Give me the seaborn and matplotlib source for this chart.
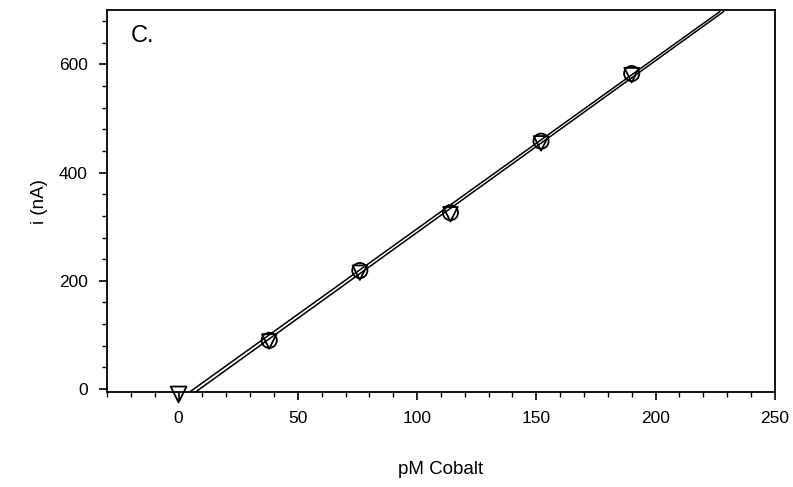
import numpy as np
import pandas as pd
import matplotlib
matplotlib.use('Agg')
import matplotlib.pyplot as plt
from matplotlib.ticker import MultipleLocator
import seaborn as sns

# concentrations (pM Cobalt) and currents (nA)
conc = [38, 76, 114, 152, 190]
current_circle = [90, 219, 326, 458, 583]
current_tri = [88, 215, 323, 454, 580]
blank_x = [0]
blank_y = [-10]

# fitted lines, end points where they leave the plot
fit_a_x = [4.6, 227.0]
fit_a_y = [-5.5, 697.6]
fit_b_x = [7.1, 228.6]
fit_b_y = [-5.5, 697.6]

sns.set_theme(style='ticks')
plt.rcParams['font.family'] = ['Liberation Sans', 'DejaVu Sans']
plt.rcParams['text.color'] = 'black'
plt.rcParams['axes.labelcolor'] = 'black'
plt.rcParams['xtick.color'] = 'black'
plt.rcParams['ytick.color'] = 'black'

fig = plt.figure(figsize=(7.93, 4.87), dpi=100)
ax = fig.add_axes([0.135, 0.195, 0.842, 0.784])

sns.lineplot(x=fit_a_x, y=fit_a_y, ax=ax, color='black', lw=1.1)
sns.lineplot(x=fit_b_x, y=fit_b_y, ax=ax, color='black', lw=1.1)

sns.scatterplot(x=conc, y=current_circle, ax=ax, marker='o', s=120,
                facecolor='none', edgecolor='black', linewidth=1.3, zorder=3)
sns.scatterplot(x=conc, y=current_tri, ax=ax, marker='v', s=110,
                facecolor='none', edgecolor='black', linewidth=1.3, zorder=3)
sns.scatterplot(x=blank_x, y=blank_y, ax=ax, marker='v', s=130,
                facecolor='none', edgecolor='black', linewidth=1.3,
                zorder=4, clip_on=False)

ax.set_xlim(-30, 250)
ax.set_ylim(-5.5, 700)
ax.xaxis.set_major_locator(MultipleLocator(50))
ax.xaxis.set_minor_locator(MultipleLocator(10))
ax.yaxis.set_major_locator(MultipleLocator(200))
ax.yaxis.set_minor_locator(MultipleLocator(40))
ax.set_yticks([0, 200, 400, 600])

ax.tick_params(which='major', direction='out', length=6, width=1.2,
               labelsize=12.5, pad=8)
ax.tick_params(which='minor', direction='out', length=3.5, width=1)
for sp in ax.spines.values():
    sp.set_color('black')
    sp.set_linewidth(1.3)

ax.set_xlabel('pM Cobalt', fontsize=13.5, labelpad=25)
ax.set_ylabel('i (nA)', fontsize=13.5, labelpad=8)
ax.text(0.035, 0.96, 'C.', transform=ax.transAxes, fontsize=17,
        va='top', ha='left')

fig.savefig('out.png', dpi=100)
